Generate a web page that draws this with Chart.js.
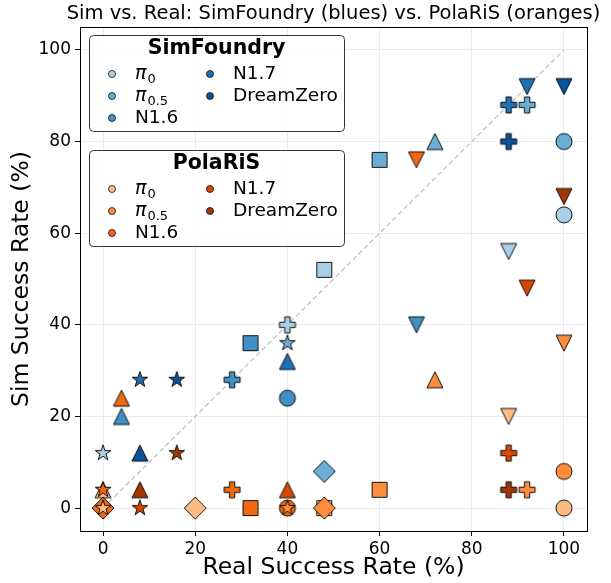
<!DOCTYPE html>
<html>
<head>
<meta charset="utf-8">
<script src="https://cdn.jsdelivr.net/npm/chart.js@4.4.1/dist/chart.umd.min.js"></script>
<style>
  html, body { margin: 0; padding: 0; background: #fff; }
</style>
</head>
<body>
<canvas id="chart" width="611" height="583"></canvas>
<script>
// models (legend entries) -- "_" marks a subscript
const models = ['π_0', 'π_0.5', 'N1.6', 'N1.7', 'DreamZero'];
// one marker shape per task
const shapes = ['circle', 'triUp', 'square', 'diamond', 'plus', 'star', 'triDown'];

// rows = tasks (shapes), columns = models; null = not plotted
const realSuccess = [
  [100, 100, 40, null, null],
  [0, 72, 4, 40, 8],
  [48, 60, 32, null, null],
  [20, 48, 0, null, null],
  [40, 92, 28, 88, 88],
  [0, 40, 0, 8, 16],
  [88, 100, 68, 92, 100]
];
const simFoundrySuccess = [
  [64, 80, 24, null, null],
  [null, 80, 20, 32, 12],
  [52, 76, 36, null, null],
  [null, 8, null, null, null],
  [40, 88, 28, 88, 80],
  [12, 36, null, 28, 28],
  [56, null, 40, 92, 92]
];
const polarisSuccess = [
  [0, 8, 0, null, null],
  [4, 28, 24, 4, 4],
  [0, 4, 0, null, null],
  [0, 0, 0, null, null],
  [null, 4, 4, 12, 4],
  [0, 0, 4, 0, 12],
  [20, 36, 76, 48, 68]
];

const diagX = [0, 100];
const diagY = [0, 100];
const axisTicks = [0, 20, 40, 60, 80, 100];

const blues = ['#a8cfe5', '#6aaed6', '#4090c6', '#2070b4', '#0a5299'];
const oranges = ['#fdbb81', '#fd8d3c', '#f06912', '#d84801', '#a33603'];
const FONT = '"DejaVu Sans", sans-serif';

// filled marker glyphs with a thin black edge
function marker(shape, fill) {
  const s = 30, c = s / 2;
  const cv = document.createElement('canvas');
  cv.width = cv.height = s;
  const g = cv.getContext('2d');
  g.beginPath();
  if (shape === 'circle') {
    g.arc(c, c, 8, 0, Math.PI * 2);
  } else if (shape === 'square') {
    g.rect(c - 7.5, c - 7.5, 15, 15);
  } else if (shape === 'diamond') {
    g.moveTo(c, c - 11); g.lineTo(c + 11, c); g.lineTo(c, c + 11); g.lineTo(c - 11, c); g.closePath();
  } else if (shape === 'triUp') {
    g.moveTo(c, c - 8); g.lineTo(c + 8, c + 8); g.lineTo(c - 8, c + 8); g.closePath();
  } else if (shape === 'triDown') {
    g.moveTo(c, c + 8); g.lineTo(c + 8, c - 8); g.lineTo(c - 8, c - 8); g.closePath();
  } else if (shape === 'plus') {
    const a = 8, b = 8 / 3;
    const p = [[-b,-a],[b,-a],[b,-b],[a,-b],[a,b],[b,b],[b,a],[-b,a],[-b,b],[-a,b],[-a,-b],[-b,-b]];
    p.forEach(([px, py], i) => i ? g.lineTo(c + px, c + py) : g.moveTo(c + px, c + py));
    g.closePath();
  } else if (shape === 'star') {
    const R = 8.3, r = R * 0.382;
    for (let i = 0; i < 10; i++) {
      const rr = i % 2 ? r : R;
      const ang = -Math.PI / 2 + i * Math.PI / 5;
      const px = c + rr * Math.cos(ang), py = c + rr * Math.sin(ang);
      i ? g.lineTo(px, py) : g.moveTo(px, py);
    }
    g.closePath();
  }
  g.fillStyle = fill;
  g.fill();
  g.lineWidth = 1;
  g.strokeStyle = '#111';
  g.stroke();
  return cv;
}

const datasets = [{
  type: 'scatter',
  data: diagX.map((x, i) => ({x: x, y: diagY[i]})),
  showLine: true,
  borderColor: '#bdbdbd',
  borderWidth: 1.2,
  borderDash: [5, 3],
  pointRadius: 0,
  order: 1
}];

let layer = 0;
shapes.forEach((shape, t) => {
  [[simFoundrySuccess, blues], [polarisSuccess, oranges]].forEach(([sim, pal]) => {
    const pts = [], styles = [];
    models.forEach((m, k) => {
      if (sim[t][k] == null) return;
      pts.push({x: realSuccess[t][k], y: sim[t][k]});
      styles.push(marker(shape, pal[k]));
    });
    layer++;
    datasets.push({
      type: 'scatter',
      data: pts,
      pointStyle: styles,
      pointRadius: 8,
      order: -layer
    });
  });
});

// label with optional subscript, e.g. π_0.5
function drawLabel(g, text, x, y) {
  const parts = text.split('_');
  g.textAlign = 'left';
  g.textBaseline = 'middle';
  if (parts.length === 1) {
    g.font = '18.5px ' + FONT;
    g.fillText(text, x, y);
    return;
  }
  g.font = 'italic 19px ' + FONT;
  g.fillText(parts[0], x, y);
  const w = g.measureText(parts[0]).width;
  g.font = '13px ' + FONT;
  g.fillText(parts[1], x + w + 1, y + 6);
}

function drawLegendBox(g, left, top, title, pal) {
  const w = 255, h = 96;
  g.save();
  g.beginPath();
  g.roundRect(left + 0.5, top + 0.5, w, h, 4);
  g.fillStyle = 'rgba(255,255,255,0.9)';
  g.fill();
  g.strokeStyle = '#333';
  g.lineWidth = 1;
  g.stroke();
  g.fillStyle = '#000';
  g.font = 'bold 20.5px ' + FONT;
  g.textAlign = 'center';
  g.textBaseline = 'middle';
  g.fillText(title, left + w / 2, top + 14);
  models.forEach((m, k) => {
    const col = k < 3 ? 0 : 1;
    const row = k < 3 ? k : k - 3;
    const mx = left + 23 + col * 98;
    const my = top + 39 + row * 22;
    g.beginPath();
    g.arc(mx, my, 3.5, 0, Math.PI * 2);
    g.fillStyle = pal[k];
    g.fill();
    g.lineWidth = 0.8;
    g.strokeStyle = '#111';
    g.stroke();
    g.fillStyle = '#000';
    drawLabel(g, m, mx + 23, my);
  });
  g.restore();
}

const decor = {
  id: 'decor',
  afterDatasetsDraw(chart) {
    const g = chart.ctx, a = chart.chartArea;
    g.save();
    g.strokeStyle = '#000';
    g.lineWidth = 1;
    g.strokeRect(a.left + 0.5, a.top + 0.5, a.right - a.left, a.bottom - a.top);
    g.fillStyle = '#000';
    g.font = '19.5px ' + FONT;
    g.textAlign = 'center';
    g.textBaseline = 'middle';
    g.fillText('Sim vs. Real: SimFoundry (blues) vs. PolaRiS (oranges)', (a.left + a.right) / 2, 14);
    g.restore();
    drawLegendBox(g, a.left + 9, a.top + 8, 'SimFoundry', blues);
    drawLegendBox(g, a.left + 9, a.top + 123, 'PolaRiS', oranges);
  }
};

const axisCommon = {
  type: 'linear',
  min: -5,
  max: 105,
  afterBuildTicks: s => { s.ticks = axisTicks.map(v => ({value: v})); },
  grid: {color: '#ebebeb', tickColor: '#000', tickLength: 5},
  border: {color: '#000', width: 1},
  ticks: {font: {family: FONT, size: 17}, color: '#000', padding: 3}
};

new Chart(document.getElementById('chart'), {
  type: 'scatter',
  data: {datasets: datasets},
  options: {
    responsive: false,
    animation: false,
    events: [],
    layout: {padding: {top: 27, right: 24, left: 0, bottom: 0}},
    plugins: {legend: {display: false}, tooltip: {enabled: false}},
    scales: {
      x: Object.assign({}, axisCommon, {
        afterFit: s => { s.height = 52; },
        title: {display: true, text: 'Real Success Rate (%)', color: '#000',
                font: {family: FONT, size: 23.5}, padding: {top: 0, bottom: 1}}
      }),
      y: Object.assign({}, axisCommon, {
        afterFit: s => { s.width = 80; },
        ticks: {font: {family: FONT, size: 17}, color: '#000', padding: 4},
        title: {display: true, text: 'Sim Success Rate (%)', color: '#000',
                font: {family: FONT, size: 23.5}, padding: {top: 8, bottom: 0}}
      })
    }
  },
  plugins: [decor]
});
</script>
</body>
</html>
